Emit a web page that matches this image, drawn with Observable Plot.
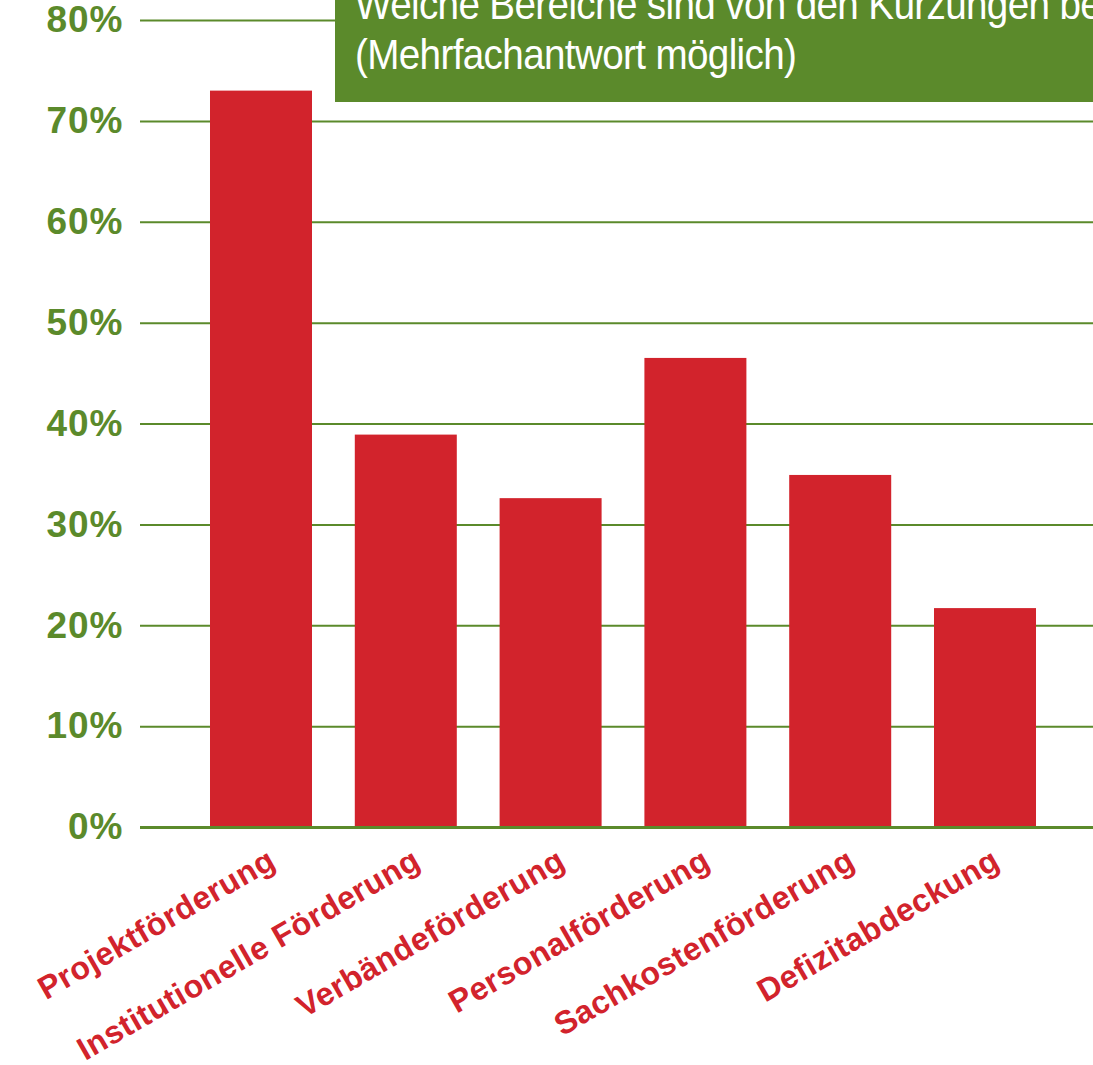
<!DOCTYPE html>
<html>
<head>
<meta charset="utf-8">
<script src="https://cdn.jsdelivr.net/npm/d3@7"></script>
<script src="https://cdn.jsdelivr.net/npm/@observablehq/plot@0.6"></script>
<style>
  html, body { margin: 0; padding: 0; background: #fff; overflow: hidden; }
  #wrap { position: relative; width: 1093px; height: 1065px; overflow: hidden; }
  #title {
    position: absolute; left: 335px; top: 0; width: 800px; height: 102px;
    background: #5b8a2b; color: #fff; overflow: hidden;
    font-family: "Liberation Sans", Arial, sans-serif; font-size: 42px;
    letter-spacing: -0.7px; line-height: 50px; white-space: nowrap;
  }
  #title div { position: absolute; left: 20px; transform: scaleX(0.92); transform-origin: 0 0; }
</style>
</head>
<body>
<div id="wrap">
  <div id="chart"></div>
  <div id="title">
    <div style="top:-20px">Welche Bereiche sind von den Kürzungen betroffen?</div>
    <div style="top:30px">(Mehrfachantwort möglich)</div>
  </div>
</div>
<script>
const categories = ["Projektförderung", "Institutionelle Förderung", "Verbändeförderung", "Personalförderung", "Sachkostenförderung", "Defizitabdeckung"];
const values = [73, 38.9, 32.6, 46.5, 34.9, 21.7];
const yTicks = [0, 10, 20, 30, 40, 50, 60, 70, 80];

const data = categories.map((c, i) => ({category: c, value: values[i]}));
const green = "#5b8a2b";
const red = "#d2232c";

const chart = Plot.plot({
  width: 1093,
  height: 1065,
  marginTop: 20,
  marginBottom: 238,
  marginLeft: 140,
  marginRight: 0,
  style: {background: "#fff", overflow: "visible"},
  x: {type: "band", domain: categories, range: [140, 1106], paddingInner: 0.2956, paddingOuter: 0.4834, round: false},
  y: {domain: [0, 80]},
  marks: [
    Plot.ruleY(yTicks.filter(d => d > 0), {stroke: green, strokeWidth: 2}),
    Plot.ruleX([0], {frameAnchor: "left", stroke: green, strokeWidth: 2.5}),
    Plot.barY(data, {x: "category", y: "value", fill: red}),
    Plot.ruleY([0], {stroke: green, strokeWidth: 3}),
    Plot.axisY({
      ticks: yTicks, tickSize: 0, tickPadding: 17, label: null,
      tickFormat: d => d + "%",
      fill: green, fontSize: 37, fontWeight: "bold",
      fontFamily: "Liberation Sans, Arial, sans-serif"
    }),
    Plot.axisX({
      tickSize: 0, tickPadding: 30, tickRotate: -30, label: null, dx: 11,
      fill: red, fontSize: 32, fontWeight: "bold",
      fontFamily: "Liberation Sans, Arial, sans-serif"
    })
  ]
});
d3.select(chart).selectAll("g[aria-label='y-axis tick label'] text").style("letter-spacing", "1px");
d3.select(chart).selectAll("g[aria-label='x-axis tick label'] text").style("letter-spacing", "0.5px");
document.getElementById("chart").appendChild(chart);
</script>
</body>
</html>
